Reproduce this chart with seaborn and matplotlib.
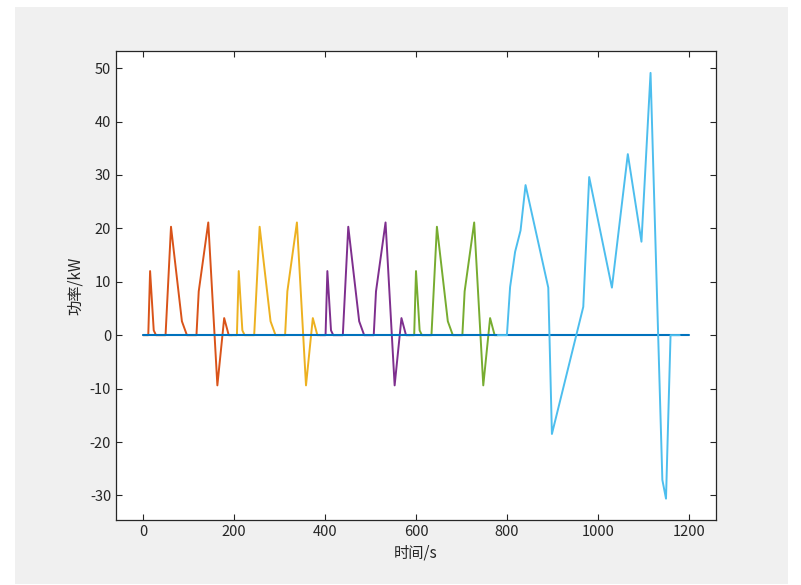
import matplotlib
matplotlib.use('Agg')
import matplotlib.pyplot as plt
from matplotlib.patches import Rectangle
import seaborn as sns

# ECE-15 urban cycle (one repeat), time in s and power in kW
ece_time = [0, 11, 15, 23, 28, 49, 61, 85, 96, 117, 122, 143, 163, 178, 188, 195]
ece_power = [0, 0, 12.0, 0.9, 0, 0, 20.3, 2.6, 0, 0, 8.2, 21.1, -9.4, 3.2, 0, 0]
# the four urban repeats start here
ece_starts = [0, 195, 390, 585]
ece_colors = ['#D95319', '#EDB120', '#7E2F8E', '#77AC30']

# EUDC extra-urban part
eudc_time = [780, 800, 807, 818, 830, 841, 891, 899, 968, 981, 1031, 1066,
             1096, 1116, 1142, 1150, 1160, 1180]
eudc_power = [0, 0, 9.0, 15.6, 19.6, 28.1, 8.9, -18.5, 5.3, 29.6, 8.9, 33.9,
              17.5, 49.1, -27.1, -30.6, 0, 0]
eudc_color = '#4DBEEE'

# zero line
base_time = [0, 1200]
base_power = [0, 0]

sns.set_style('ticks')
plt.rcParams['font.family'] = ['Noto Sans CJK SC', 'DejaVu Sans']
plt.rcParams['axes.unicode_minus'] = False

fig = plt.figure(figsize=(8.01, 5.85), dpi=100, facecolor='white')
# grey window background like a MATLAB figure
fig.patches.append(Rectangle((15 / 801, 1 - 584 / 585), 773 / 801, 577 / 585,
                             transform=fig.transFigure, facecolor='#f0f0f0',
                             edgecolor='none', zorder=-1))
ax = fig.add_axes([116 / 801, 1 - 520 / 585, 600 / 801, 469 / 585])
ax.set_facecolor('white')

for start, c in zip(ece_starts, ece_colors):
    sns.lineplot(x=[start + t for t in ece_time], y=ece_power, color=c, lw=1.4,
                 ax=ax, estimator=None, sort=False)
sns.lineplot(x=base_time, y=base_power, color='#0072BD', lw=1.5, ax=ax,
             estimator=None, sort=False)
sns.lineplot(x=eudc_time, y=eudc_power, color=eudc_color, lw=1.4, ax=ax,
             estimator=None, sort=False)

ax.set_xlim(-60, 1260)
ax.set_ylim(-34.6, 53.2)
ax.set_xticks(range(0, 1201, 200))
ax.set_yticks(range(-30, 51, 10))
ax.tick_params(direction='in', top=True, right=True, length=4, width=0.8,
               labelsize=10.5, colors='#262626')
for s in ax.spines.values():
    s.set_visible(True)
    s.set_color('#262626')
    s.set_linewidth(0.9)
ax.set_xlabel('时间/s', fontsize=11, color='#262626')
ax.set_ylabel('功率/kW', fontsize=11, color='#262626')

fig.savefig('out.png', dpi=100, facecolor='white')
